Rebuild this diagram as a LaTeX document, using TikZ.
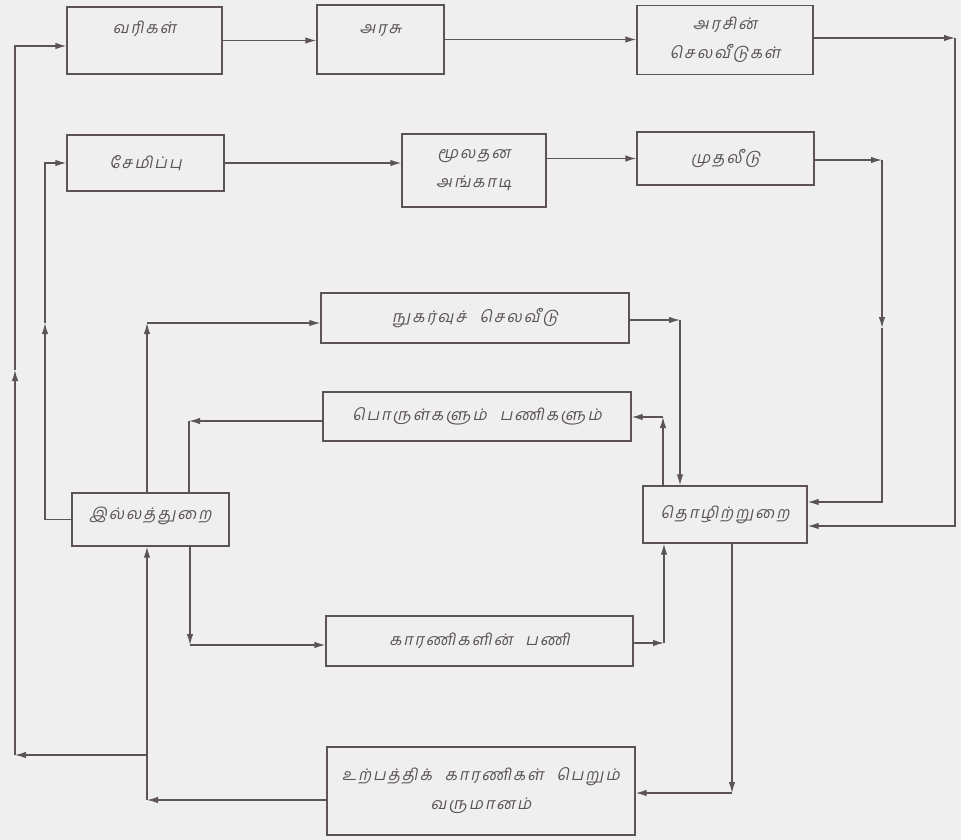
\documentclass[tikz,border=0pt]{standalone}
\usepackage{fontspec}
\newfontfamily\tamil[Script=Tamil,FakeSlant=0.2,LetterSpace=12,WordSpace=2.2]{Hind Madurai}
\usetikzlibrary{arrows.meta}
\definecolor{paper}{RGB}{239,239,239}
\definecolor{ink}{RGB}{92,84,84}
\begin{document}
\begin{tikzpicture}[x = 1pt, y = -1pt,
	box/.style 2 args = {draw = ink, line width = 1.3pt, minimum width = #1, minimum height = #2, inner sep = 0pt, align = center, text = ink, font = \tamil\fontsize{16}{29}\selectfont},
	flow/.style = {draw = ink, line width = 1.3pt, -{Latex[length = 11pt, width = 6.5pt]}},
	plain/.style = {draw = ink, line width = 1.3pt}]
	\fill [paper] (0, 0) rectangle (961, 840);
	\useasboundingbox (0, 0) rectangle (961, 840);
	% boxes
	\node[box = {155pt}{67pt}, text depth = 26pt] (vari) at (144.5, 40.5) {வரிகள்};
	\node[box = {127pt}{69pt}, text depth = 20pt] (arasu) at (380.5, 39.5) {அரசு};
	\node[box = {176pt}{69pt}] (selavu) at (725, 40) {அரசின்\\செலவீடுகள்};
	\node[box = {157pt}{56pt}] (semippu) at (145.5, 163) {சேமிப்பு};
	\node[box = {144pt}{73pt}] (angadi) at (474, 170.5) {மூலதன\\அங்காடி};
	\node[box = {177pt}{53pt}] (mudhal) at (725.5, 158.5) {முதலீடு};
	\node[box = {308pt}{50pt}] (nugarvu) at (475, 318) {நுகர்வுச் செலவீடு};
	\node[box = {308pt}{49pt}] (porul) at (477, 416.5) {பொருள்களும் பணிகளும்};
	\node[box = {157pt}{53pt}, text depth = 12pt] (illam) at (150.5, 519.5) {இல்லத்துறை};
	\node[box = {164pt}{57pt}] (thozhil) at (725, 514.5) {தொழிற்றுறை};
	\node[box = {307pt}{50pt}] (kaarani) at (479.5, 641) {காரணிகளின் பணி};
	\node[box = {308pt}{88pt}] (varumanam) at (481, 791) {உற்பத்திக் காரணிகள் பெறும்\\வருமானம்};
	% bends
	\coordinate (gr1) at (955, 38);
	\coordinate (gr2) at (955, 526);
	\coordinate (inv1) at (882, 160);
	\coordinate (inv2) at (882, 328);
	\coordinate (inv3) at (882, 502);
	\coordinate (sav1) at (45, 323);
	\coordinate (tax0) at (147, 755);
	\coordinate (tax1) at (15, 755);
	\coordinate (tax2) at (15, 370);
	\coordinate (tax3) at (15, 46);
	\coordinate (inc1) at (147, 800);
	\coordinate (con1) at (147, 323);
	\coordinate (con2) at (680, 320);
	\coordinate (gds1) at (189, 421);
	\coordinate (gds2) at (663, 417);
	\coordinate (fac1) at (190, 645);
	\coordinate (fac2) at (664, 643);
	\coordinate (inc2) at (732, 793);
	% flows
	\draw[flow] (vari.east) -- (vari.east -| arasu.west);
	\draw[flow] (arasu.east) -- (arasu.east -| selavu.west);
	\draw[flow] (semippu.east) -- (semippu.east -| angadi.west);
	\draw[flow] (angadi.east |- mudhal.east) -- (mudhal.west);
	\draw[flow] (selavu.east |- gr1) -- (gr1);
	\draw[flow] (gr1) -- (gr2) -- (gr2 -| thozhil.east);
	\draw[flow] (mudhal.east |- inv1) -- (inv1);
	\draw[flow] (inv1) -- (inv2);
	\draw[flow] (inv2) -- (inv3) -- (inv3 -| thozhil.east);
	\draw[flow] (illam.west) -| (sav1);
	\draw[flow] (sav1) |- (semippu.west);
	\draw[flow] (tax0) -- (tax1);
	\draw[flow] (tax1) -- (tax2);
	\draw[flow] (tax2) |- (tax3 -| vari.west);
	\draw[flow] (varumanam.west |- inc1) -- (inc1);
	\draw[flow] (inc1) -- (inc1 |- illam.south);
	\draw[flow] (con1 |- illam.north) -- (con1);
	\draw[flow] (con1) -- (con1 -| nugarvu.west);
	\draw[flow] (porul.west |- gds1) -- (gds1);
	\draw[plain] (gds1) -- (gds1 |- illam.north);
	\draw[flow] (fac1 |- illam.south) -- (fac1);
	\draw[flow] (fac1) -- (fac1 -| kaarani.west);
	\draw[flow] (kaarani.east |- fac2) -- (fac2);
	\draw[flow] (fac2) -- (fac2 |- thozhil.south);
	\draw[flow] (gds2 |- thozhil.north) -- (gds2);
	\draw[flow] (gds2) -- (gds2 -| porul.east);
	\draw[flow] (nugarvu.east |- con2) -- (con2);
	\draw[flow] (con2) -- (con2 |- thozhil.north);
	\draw[flow] (inc2 |- thozhil.south) -- (inc2);
	\draw[flow] (inc2) -- (inc2 -| varumanam.east);
\end{tikzpicture}
\end{document}
